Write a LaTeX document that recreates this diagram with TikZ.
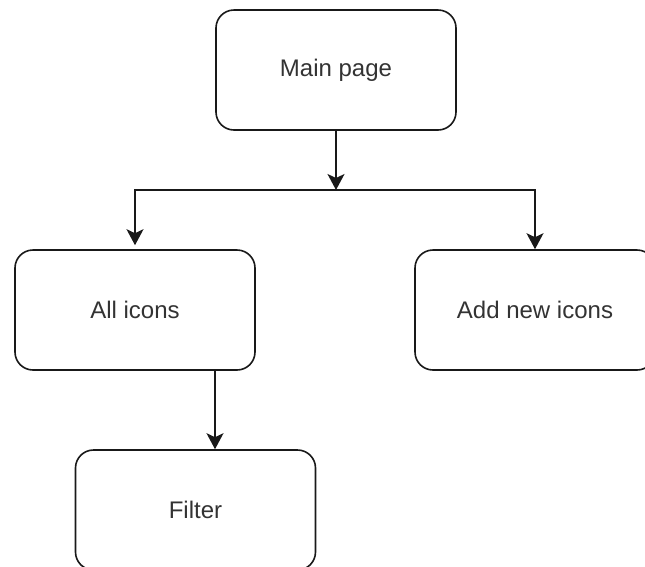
\documentclass[tikz,border=0pt]{standalone}
\usepackage{fontspec}
\setmainfont{Liberation Sans}
\usetikzlibrary{arrows.meta,calc}
\begin{document}
\begin{tikzpicture}[x=1pt,y=-1pt,
  box/.style={draw=black!90, line width=1.6pt, rounded corners=18pt,
    minimum width=240pt, minimum height=120pt, inner sep=0pt, fill=white,
    font=\fontsize{24}{28}\selectfont, text=black!80},
  link/.style={draw=black!90, line width=1.6pt,
    -{Stealth[length=16pt,width=17pt,inset=4pt]}}]
\useasboundingbox (0,0) rectangle (645,566);

% pages
\node[box] (main)   at (336,70)    {Main page};
\node[box] (all)    at (135,310)   {All icons};
\node[box] (add)    at (535,310)   {Add new icons};
\node[box] (filter) at (195.5,510) {Filter};

% branching point below the main page
\coordinate (split) at (336,190);

% connectors
\draw[link] (main.south) -- (split);
\draw[link, shorten >=4pt] (split) -| (all.north);
\draw[link] (split) -| (add.north);
\draw[link] ([xshift=80pt]all.south) -- ([xshift=80pt]all.south |- filter.north);
\end{tikzpicture}
\end{document}
